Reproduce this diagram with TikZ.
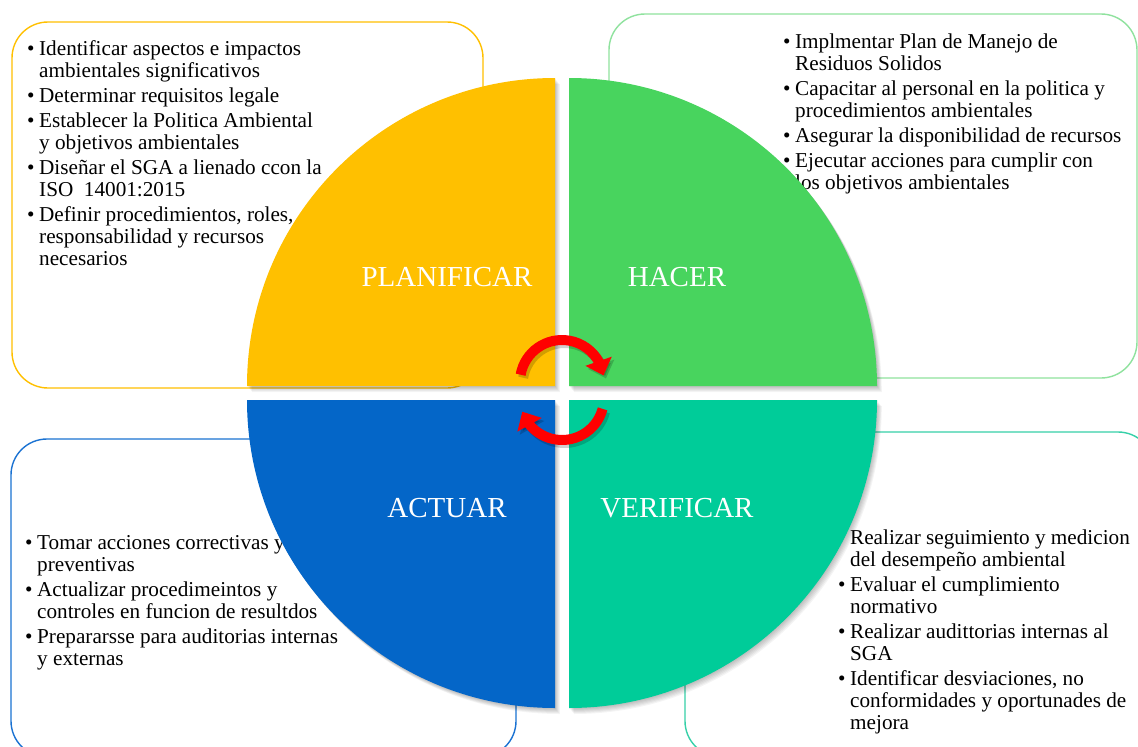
\documentclass[tikz,border=0pt]{standalone}
\usepackage{fontspec}
\setmainfont{Liberation Serif}
\usetikzlibrary{arrows.meta,bending}
\definecolor{cYel}{HTML}{FFC000}
\definecolor{cGrn}{HTML}{48D45E}
\definecolor{cBlu}{HTML}{0466C8}
\definecolor{cTea}{HTML}{00CC99}
\definecolor{bYel}{HTML}{FFC000}
\definecolor{bGrn}{HTML}{8FE29E}
\definecolor{bBlu}{HTML}{1A72D2}
\definecolor{bTea}{HTML}{36D0A8}
\definecolor{cRed}{HTML}{FF0000}
\begin{document}
\begin{tikzpicture}[x=1pt,y=1pt,
  box/.style={draw, line width=1.4pt, rounded corners=36pt, fill=white, inner sep=0pt},
  listtxt/.style={inner sep=0pt, anchor=base west, font=\fontsize{21.2}{22}\selectfont, text=black},
  qlabel/.style={text=white, font=\fontsize{29}{34}\selectfont, inner sep=0pt},
  cyc/.style={draw=cRed, line width=10pt, -{Triangle[width=27pt,length=15pt,flex]}},
  cycshadow/.style={draw=black, opacity=0.18, line width=10pt, -{Triangle[width=27pt,length=15pt,flex]}}
]
\useasboundingbox (0,0) rectangle (1138,-747);
\clip (0,0) rectangle (1138,-747);
\fill[white] (0,0) rectangle (1138,-747);

% outline boxes
\node[box, draw=bYel, minimum width=471pt, minimum height=366pt] (boxTL) at (247.5,-205) {};
\node[box, draw=bGrn, minimum width=528pt, minimum height=364pt] (boxTR) at (873,-196) {};
\node[box, draw=bBlu, minimum width=505pt, minimum height=318pt] (boxBL) at (263.5,-598) {};
\node[box, draw=bTea, minimum width=469pt, minimum height=325pt] (boxBR) at (919.5,-594.5) {};

% lists
\node[listtxt] (txtTL) at (27,-55) {\begin{tabular}[t]{@{}l@{}l@{}}
\makebox[12pt][l]{\textbullet} & Identificar aspectos e impactos\\
 & ambientales significativos\\[3pt]
\makebox[12pt][l]{\textbullet} & Determinar requisitos legale\\[3pt]
\makebox[12pt][l]{\textbullet} & Establecer la Politica Ambiental\\
 & y objetivos ambientales\\[3pt]
\makebox[12pt][l]{\textbullet} & Diseñar el SGA a lienado ccon la\\
 & ISO\ \ 14001:2015\\[3pt]
\makebox[12pt][l]{\textbullet} & Definir procedimientos, roles,\\
 & responsabilidad y recursos\\
 & necesarios
\end{tabular}};

\node[listtxt] (txtTR) at (783,-48) {\begin{tabular}[t]{@{}l@{}l@{}}
\makebox[12pt][l]{\textbullet} & Implmentar Plan de Manejo de\\
 & Residuos Solidos\\[3pt]
\makebox[12pt][l]{\textbullet} & Capacitar al personal en la politica y\\
 & procedimientos ambientales\\[3pt]
\makebox[12pt][l]{\textbullet} & Asegurar la disponibilidad de recursos\\[3pt]
\makebox[12pt][l]{\textbullet} & Ejecutar acciones para cumplir con\\
 & los objetivos ambientales
\end{tabular}};

\node[listtxt] (txtBL) at (25,-549) {\begin{tabular}[t]{@{}l@{}l@{}}
\makebox[12pt][l]{\textbullet} & Tomar acciones correctivas y\\
 & preventivas\\[3pt]
\makebox[12pt][l]{\textbullet} & Actualizar procedimeintos y\\
 & controles en funcion de resultdos\\[3pt]
\makebox[12pt][l]{\textbullet} & Prepararsse para auditorias internas\\
 & y externas
\end{tabular}};

\node[listtxt] (txtBR) at (838,-544) {\begin{tabular}[t]{@{}l@{}l@{}}
\makebox[12pt][l]{\textbullet} & Realizar seguimiento y medicion\\
 & del desempeño ambiental\\[3pt]
\makebox[12pt][l]{\textbullet} & Evaluar el cumplimiento\\
 & normativo\\[3pt]
\makebox[12pt][l]{\textbullet} & Realizar audittorias internas al\\
 & SGA\\[3pt]
\makebox[12pt][l]{\textbullet} & Identificar desviaciones, no\\
 & conformidades y oportunades de\\
 & mejora
\end{tabular}};

% quarter shadows
\foreach \cx/\cy/\sa/\ea in {555/-386/180/90, 569/-386/90/0, 555/-400/180/270, 569/-400/0/-90}{
  \foreach \k in {1,...,6}{
    \fill[black, opacity=0.045, shift={(\k*0.8,-\k*1.0)}]
      (\cx,\cy) -- ++(\sa:308) arc[start angle=\sa, end angle=\ea, radius=308] -- cycle;
  }
}
% quarters
\foreach \cx/\cy/\sa/\ea/\col in {555/-386/180/90/cYel, 569/-386/90/0/cGrn, 555/-400/180/270/cBlu, 569/-400/0/-90/cTea}{
  \fill[\col] (\cx,\cy) -- ++(\sa:308) arc[start angle=\sa, end angle=\ea, radius=308] -- cycle;
}

% labels
\node[qlabel] (lPlan) at (447,-277) {PLANIFICAR};
\node[qlabel] (lHacer) at (677,-277) {HACER};
\node[qlabel] (lActuar) at (447,-508) {ACTUAR};
\node[qlabel] (lVerif) at (677,-508) {VERIFICAR};

% cycle arrows
\coordinate (cA) at (562,-382);
\coordinate (cB) at (562,-398);
\coordinate (cAs) at (564.5,-385);
\coordinate (cBs) at (564.5,-401);
\draw[cycshadow] ([shift={(170:42)}]cAs) arc[start angle=170, end angle=9, radius=42];
\draw[cycshadow] ([shift={(-15:42)}]cBs) arc[start angle=-15, end angle=-161, radius=42];
\draw[cyc] ([shift={(170:42)}]cA) arc[start angle=170, end angle=9, radius=42];
\draw[cyc] ([shift={(-15:42)}]cB) arc[start angle=-15, end angle=-161, radius=42];
\end{tikzpicture}
\end{document}
